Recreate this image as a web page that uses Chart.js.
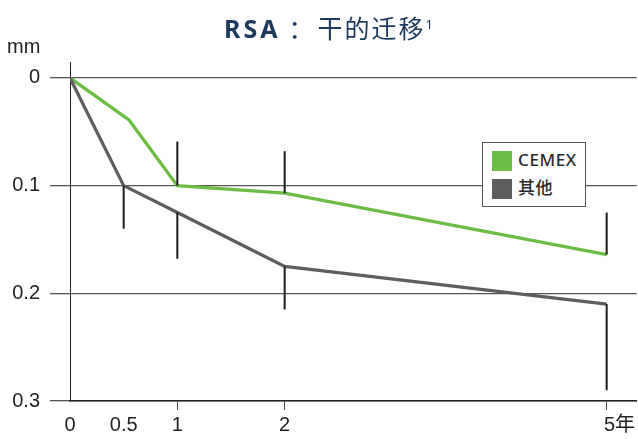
<!DOCTYPE html>
<html>
<head>
<meta charset="utf-8">
<script src="https://cdn.jsdelivr.net/npm/chart.js@4.4.1/dist/chart.umd.min.js"></script>
<style>
  html, body { margin: 0; padding: 0; background: #fff; }
  #wrap { position: relative; width: 638px; height: 439px; overflow: hidden; }
  #c { position: absolute; left: 0; top: 0; }
  #title { position: absolute; left: 224px; top: 7px; white-space: nowrap; color: #1d3a5d; font-size: 25px; line-height: 34px; }
  #title .b { font-family: "Noto Sans", sans-serif; font-weight: 700; letter-spacing: 3px; }
  #title .k { font-family: "Noto Sans CJK SC", sans-serif; font-weight: 400; display: inline-block; padding-left: 8px; padding-right: 4px; }
  #title .c { font-family: "Noto Sans CJK SC", sans-serif; font-weight: 400; letter-spacing: 2px; }
  #title sup { font-family: "Noto Sans", sans-serif; font-size: 13px; vertical-align: 9px; }
  #unit { position: absolute; left: 7px; top: 35px; font-family: "Liberation Sans", Arial, sans-serif; font-size: 20px; color: #222; }
  #legend { position: absolute; left: 482px; top: 142px; width: 102px; height: 63px; border: 1.3px solid #555; background: #fff; box-sizing: content-box; }
  .item { position: absolute; left: 9px; height: 20px; white-space: nowrap; }
  .sw { position: absolute; left: 0; top: 0; width: 20px; height: 20px; }
  .lb { position: absolute; left: 26px; top: -3px; font-size: 17px; line-height: 24px; color: #2a2a2a; font-family: "Noto Sans", "Noto Sans CJK SC", sans-serif; font-weight: 500; letter-spacing: 0.6px; }
</style>
</head>
<body>
<div id="wrap">
  <canvas id="c" width="638" height="439"></canvas>
  <div id="title"><span class="b">RSA</span><span class="k">：</span><span class="c">干的迁移</span><sup>1</sup></div>
  <div id="unit">mm</div>
  <div id="legend"></div>
</div>
<script>
// ---- data ----
const seriesNames = ['CEMEX', '其他'];
const seriesColors = ['#6cbd45', '#5e5e60'];
const xTickValues = [0, 0.5, 1, 2, 5];
const xTickLabels = ['0', '0.5', '1', '2', '5年'];
const yTickValues = [0, 0.1, 0.2, 0.3];
const yTickLabels = ['0', '0.1', '0.2', '0.3'];

const cemexYears = [0, 0.55, 1, 2, 5];
const cemexMM    = [0, 0.039, 0.1, 0.107, 0.164];
const cemexErrEnd = [null, null, 0.059, 0.068, 0.125];   // bar drawn upward

const otherYears = [0, 0.5, 1, 2, 5];
const otherMM    = [0, 0.1, 0.125, 0.175, 0.21];
const otherErrEnd = [null, 0.14, 0.168, 0.215, 0.29];     // bar drawn downward

const xMax = 5.28;
const yMin = -0.0148;
const yMax = 0.3;

// ---- legend ----
const legend = document.getElementById('legend');
seriesNames.forEach((n, i) => {
  const it = document.createElement('div');
  it.className = 'item';
  it.style.top = (i === 0 ? 8 : 36) + 'px';
  it.innerHTML = '<div class="sw" style="background:' + seriesColors[i] + '"></div><div class="lb">' + n + '</div>';
  legend.appendChild(it);
});

const toPts = (xs, ys) => xs.map((x, i) => ({ x: x, y: ys[i] }));

const errPlugin = {
  id: 'errbars',
  afterDatasetsDraw(chart) {
    const ctx = chart.ctx, xs = chart.scales.x, ys = chart.scales.y;
    ctx.save();
    ctx.strokeStyle = '#1c1c1c';
    ctx.lineWidth = 2;
    const draw = (xArr, vArr, eArr) => {
      eArr.forEach((e, i) => {
        if (e === null) return;
        const px = xs.getPixelForValue(xArr[i]);
        ctx.beginPath();
        ctx.moveTo(px, ys.getPixelForValue(vArr[i]));
        ctx.lineTo(px, ys.getPixelForValue(e));
        ctx.stroke();
      });
    };
    draw(cemexYears, cemexMM, cemexErrEnd);
    draw(otherYears, otherMM, otherErrEnd);
    ctx.restore();
  }
};

const tickFont = { family: '"Liberation Sans", Arial, "Noto Sans CJK SC", sans-serif', size: 20 };

new Chart(document.getElementById('c'), {
  type: 'line',
  data: {
    datasets: [
      { label: seriesNames[1], data: toPts(otherYears, otherMM), borderColor: seriesColors[1], borderWidth: 3.3, pointRadius: 0, tension: 0, fill: false },
      { label: seriesNames[0], data: toPts(cemexYears, cemexMM), borderColor: seriesColors[0], borderWidth: 3.3, pointRadius: 0, tension: 0, fill: false }
    ]
  },
  options: {
    responsive: false,
    animation: false,
    events: [],
    layout: { padding: { top: 62, left: 0, right: 0, bottom: 0 } },
    plugins: { legend: { display: false }, title: { display: false }, tooltip: { enabled: false } },
    scales: {
      x: {
        type: 'linear',
        min: 0, max: xMax,
        afterFit(s) { s.height = 38; },
        afterBuildTicks(s) { s.ticks = xTickValues.map(v => ({ value: v })); },
        ticks: {
          autoSkip: false, maxRotation: 0, padding: 3, color: '#222', font: tickFont,
          callback(v) {
            const i = xTickValues.indexOf(v);
            const t = xTickLabels[i];
            return t === '5年' ? '\u3000 5年' : t;
          }
        },
        grid: {
          drawOnChartArea: false, drawTicks: true, tickLength: 9, lineWidth: 1,
          tickColor: (c) => (c.tick && c.tick.value >= 1) ? '#444' : 'rgba(0,0,0,0)'
        },
        border: { display: true, color: '#222', width: 1.4 }
      },
      y: {
        type: 'linear',
        reverse: true,
        min: yMin, max: yMax,
        afterFit(s) { s.width = 70; },
        afterBuildTicks(s) { s.ticks = yTickValues.map(v => ({ value: v })); },
        ticks: {
          padding: 10, color: '#222', font: tickFont,
          callback(v) { return yTickLabels[yTickValues.indexOf(v)]; }
        },
        grid: { color: '#555', lineWidth: 1.3, drawTicks: true, tickLength: 20, tickColor: '#555' },
        border: { display: true, color: '#222', width: 1 }
      }
    }
  },
  plugins: [errPlugin]
});
</script>
</body>
</html>
